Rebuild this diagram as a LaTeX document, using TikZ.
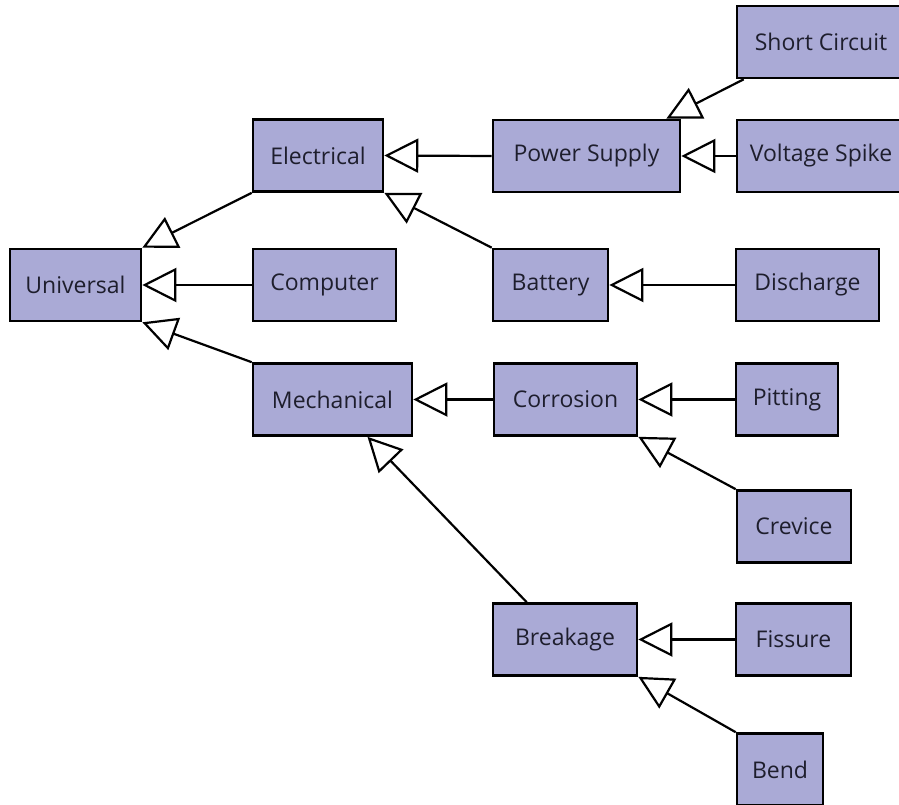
\documentclass[tikz,border=0pt]{standalone}
\usepackage{fontspec}
\setmainfont{Open Sans}
\usetikzlibrary{arrows.meta}
\definecolor{boxfill}{RGB}{170,170,214}
\definecolor{boxtext}{RGB}{30,30,45}
\tikzset{
  cls/.style={draw=black, line width=2.6pt, fill=boxfill, text=boxtext,
    minimum height=72pt, inner sep=0pt, font=\fontsize{23}{27}\selectfont},
  gen/.style={line width=2.2pt, -{Triangle[length=34pt 0,width=34pt 0,fill=white,line width=2.2pt]}}
}
\begin{document}
\begin{tikzpicture}[x=1pt,y=-1pt]
\clip (0,0) rectangle (899,805);
\fill[white] (0,0) rectangle (899,805);
\node[cls, minimum width=131pt] (uni) at (75.5,285) {Universal};
\node[cls, minimum width=143pt] (comp) at (324.5,285) {Computer};
\node[cls, minimum width=130pt] (elec) at (318,155.5) {Electrical};
\node[cls, minimum width=187pt] (ps) at (586.5,156) {Power Supply};
\node[cls, minimum width=168pt] (sc) at (821,42) {Short Circuit};
\node[cls, minimum width=168pt] (vs) at (821,156) {Voltage Spike};
\node[cls, minimum width=115pt] (bat) at (550.5,285) {Battery};
\node[cls, minimum width=143pt] (dis) at (807.5,285) {Discharge};
\node[cls, minimum width=159pt] (mech) at (332.5,399.5) {Mechanical};
\node[cls, minimum width=143pt] (corr) at (565.5,399.5) {Corrosion};
\node[cls, minimum width=102pt] (pit) at (787,399.5) {Pitting};
\node[cls, minimum width=114pt] (crev) at (794,526.5) {Crevice};
\node[cls, minimum width=144pt] (brk) at (565,639.5) {Breakage};
\node[cls, minimum width=115pt] (fis) at (793.5,639.5) {Fissure};
\node[cls, minimum width=86pt] (bend) at (780,769.5) {Bend};

\draw[gen] (elec.south west) -- (uni.north east);
\draw[gen] (comp.west) -- (uni.east);
\draw[gen] (mech.north west) -- (uni.south east);
\draw[gen] (ps.west) -- (elec.east);
\draw[gen] (bat.north west) -- (elec.south east);
\draw[gen] ([xshift=8pt]sc.south west) -- ([xshift=-15pt]ps.north east);
\draw[gen] (vs.west) -- (ps.east);
\draw[gen] (dis.west) -- (bat.east);
\draw[gen] (corr.west) -- (mech.east);
\draw[gen] (pit.west) -- (corr.east);
\draw[gen] (crev.north west) -- (corr.south east);
\draw[gen] ([xshift=35pt]brk.north west) -- ([xshift=35pt]mech.south);
\draw[gen] (fis.west) -- (brk.east);
\draw[gen] (bend.north west) -- (brk.south east);
\end{tikzpicture}
\end{document}
